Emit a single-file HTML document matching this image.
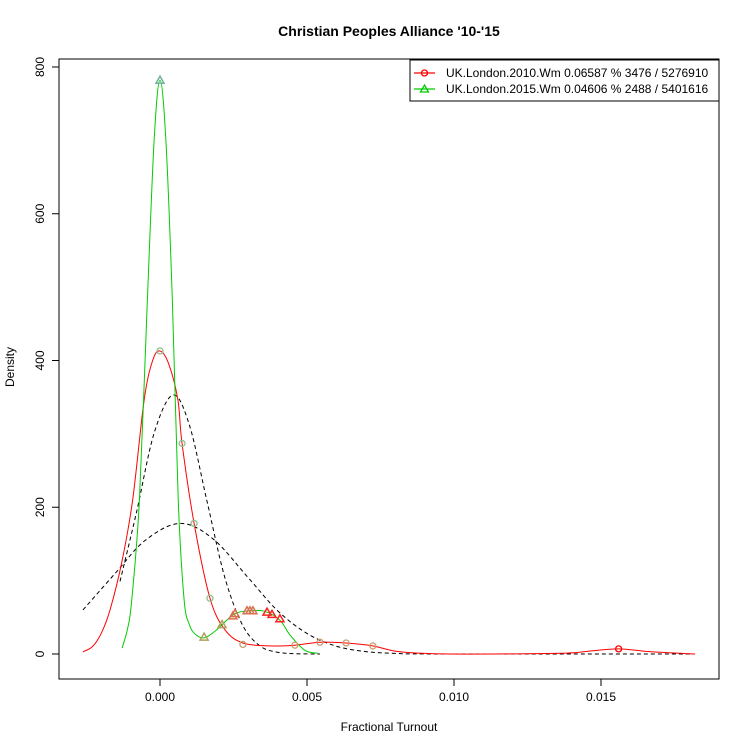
<!DOCTYPE html>
<html><head><meta charset="utf-8">
<style>
html,body{margin:0;padding:0;background:#fff;}
svg{display:block;font-family:"Liberation Sans",Arial,sans-serif;}
</style></head>
<body>
<svg id="chart" width="750" height="750" viewBox="0 0 750 750">
  <rect x="0" y="0" width="750" height="750" fill="#fff"/>
  <text x="389" y="36" text-anchor="middle" font-size="14" font-weight="bold">Christian Peoples Alliance '10-'15</text>
  <text x="389" y="731" text-anchor="middle" font-size="12">Fractional Turnout</text>
  <text x="0" y="0" transform="translate(14,367) rotate(-90)" text-anchor="middle" font-size="12">Density</text>
  <rect x="59" y="59" width="660" height="620" fill="none" stroke="#000" stroke-width="1"/>
  <g id="axes"></g>
  <g id="series"></g>
  <g>
    <rect x="410" y="60" width="309" height="41" fill="#fff" stroke="#000"/>
    <g>
      <line x1="414" y1="73" x2="435" y2="73" stroke="#ff0000" stroke-width="1.3"/>
      <circle cx="424.5" cy="73" r="3" fill="none" stroke="#ff0000" stroke-width="1.3"/>
      <text x="446" y="77" font-size="12">UK.London.2010.Wm 0.06587 % 3476 / 5276910</text>
    </g>
    <g>
      <line x1="414" y1="89" x2="435" y2="89" stroke="#00cc00" stroke-width="1.3"/>
      <polygon points="424.5,85 428.5,92 420.5,92" fill="none" stroke="#00cc00" stroke-width="1.3"/>
      <text x="446" y="93" font-size="12">UK.London.2015.Wm 0.04606 % 2488 / 5401616</text>
    </g>
  </g>
</svg>
<script>
// x values in units of 0.001 (fractional turnout), y = density
const xTicks = [0, 5, 10, 15];
const xTickLabels = ["0.000", "0.005", "0.010", "0.015"];
const yTicks = [0, 200, 400, 600, 800];
const yTickLabels = ["0", "200", "400", "600", "800"];

const red2010X = [-2.62,-2.3,-2.0,-1.7,-1.3,-0.93,-0.54,-0.25,0,0.3,0.61,0.75,1.16,1.70,2.21,2.82,3.74,4.59,5.44,6.33,7.24,8.16,9.86,13.6,14.6,15.6,16.7,18.2];
const red2010Y = [3,10,28,60,125,210,346,400,413,395,346,287,178,76,33,15,11,12,16,15,11,3,0,1,4,7,3,0];
const red2010PtsX = [0,0.75,1.16,1.70,2.82,4.59,5.44,6.33,7.24,15.6];
const red2010PtsY = [413,287,178,76,13,12,16,15,11,7];

const green2015X = [-1.29,-1.1,-0.96,-0.7,-0.43,-0.2,0,0.2,0.42,0.62,0.82,1.0,1.2,1.50,1.87,2.11,2.55,3.06,3.57,4.08,4.42,4.93,5.37];
const green2015Y = [8,35,74,210,482,700,782,700,482,210,74,40,27,22,31,40,55,59,58,46,26,5,1];
const green2015PtsX = [0,1.50,2.11,2.48,2.55,2.96,3.06,3.16,3.64,3.81,4.08];
const green2015PtsY = [782,23,40,52,55,59,59,59,57,54,48];

const normNarrowX = [-1.36,-0.8,-0.2,0.44,1.0,1.6,2.2,2.8,3.4,4.0,4.6,5.44];
const normNarrowY = [99,193,301,353,312,208,105,40,11,2.4,0.4,0];
const normWideX = [-2.62,-1.5,-0.5,0.68,1.8,3,4,5,6,7,8,9.5,18.2];
const normWideY = [60,111,155,178,157,104,59,28,10.6,3.3,0.85,0.05,0];

const NS = "http://www.w3.org/2000/svg";
function sx(v){ return 160 + v * 29.4; }
function sy(v){ return 654 - v * 0.73375; }

const axes = document.getElementById('axes');
const series = document.getElementById('series');
function mk(tag, attrs, parent){
  const e = document.createElementNS(NS, tag);
  for (const k in attrs) e.setAttribute(k, attrs[k]);
  parent.appendChild(e);
  return e;
}
xTicks.forEach((t,i)=>{
  const x = sx(t);
  const tk = mk('line',{x1:x,y1:679,x2:x,y2:686,stroke:'#000'},axes);
  
  
  const lb = mk('text',{x:x,y:701,'text-anchor':'middle','font-size':12},axes);
  lb.textContent = xTickLabels[i];
  
  
});
const xl = mk('line',{x1:sx(xTicks[0]),y1:679,x2:sx(xTicks[xTicks.length-1]),y2:679,stroke:'#000'},axes);


yTicks.forEach((t,i)=>{
  const y = sy(t);
  const tk = mk('line',{x1:52,y1:y,x2:59,y2:y,stroke:'#000'},axes);
  
  
  const lb = mk('text',{x:0,y:0,transform:`translate(44,${y}) rotate(-90)`,'text-anchor':'middle','font-size':12},axes);
  lb.textContent = yTickLabels[i];
  
  
});

function smoothPath(xs, ys){
  const p = xs.map((x,i)=>[sx(x), sy(ys[i])]);
  let d = `M${p[0][0]},${p[0][1]}`;
  for (let i=0;i<p.length-1;i++){
    const p0 = p[i-1]||p[i], p1=p[i], p2=p[i+1], p3=p[i+2]||p[i+1];
    const c1x = p1[0]+(p2[0]-p0[0])/6, c1y = p1[1]+(p2[1]-p0[1])/6;
    const c2x = p2[0]-(p3[0]-p1[0])/6, c2y = p2[1]-(p3[1]-p1[1])/6;
    d += ` C${c1x},${c1y} ${c2x},${c2y} ${p2[0]},${p2[1]}`;
  }
  return d;
}

const wide = mk('path',{d:smoothPath(normWideX,normWideY),fill:'none',stroke:'#000','stroke-dasharray':'4,3','stroke-width':1},series);


const narrow = mk('path',{d:smoothPath(normNarrowX,normNarrowY),fill:'none',stroke:'#000','stroke-dasharray':'4,3','stroke-width':1},series);


const red = mk('path',{d:smoothPath(red2010X,red2010Y),fill:'none',stroke:'#ff0000','stroke-width':1},series);


const green = mk('path',{d:smoothPath(green2015X,green2015Y),fill:'none',stroke:'#00cc00','stroke-width':1},series);



red2010PtsX.forEach((x,i)=>{
  const col = (x > 10) ? '#ff0000' : (x < 1.8 ? '#8fbf8f' : '#c8a070');
  const c = mk('circle',{cx:sx(x),cy:sy(red2010PtsY[i]),r:3,fill:'none',stroke:col,'stroke-width':1.3},series);
  
  
});
green2015PtsX.forEach((x,i)=>{
  const X = sx(x), Y = sy(green2015PtsY[i]);
  const col = x === 0 ? '#70b0a0' : (x > 3.5 ? '#ff2020' : (x > 2.4 ? '#d87050' : '#b0a060'));
  const t = mk('polygon',{points:`${X},${Y-4} ${X+4},${Y+3} ${X-4},${Y+3}`,fill:'none',stroke:col,'stroke-width':1.5},series);
  
  
});
</script>
</body></html>
